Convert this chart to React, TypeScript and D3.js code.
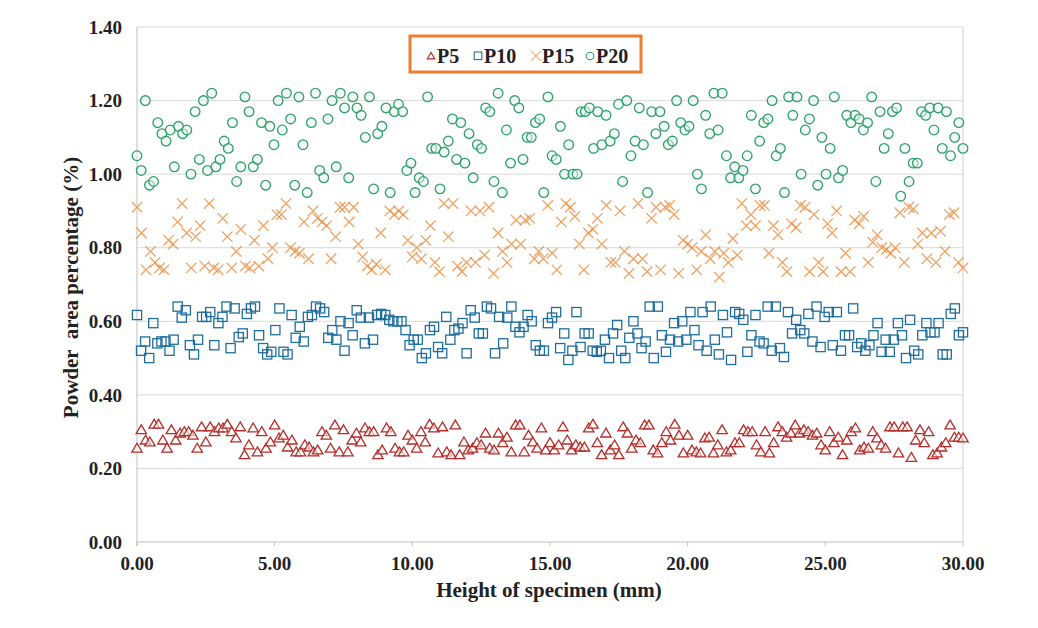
import React from "react";
import * as d3 from "d3";

const yTicks = [0, 0.2, 0.4, 0.6, 0.8, 1.0, 1.2, 1.4];
const xTicks = [0, 5, 10, 15, 20, 25, 30];
const seriesNames = ["P5", "P10", "P15", "P20"];

const p5 = [
  0.255, 0.305, 0.277, 0.272, 0.32, 0.32, 0.277, 0.255, 0.305, 0.277, 0.296, 0.3, 0.3, 0.29, 0.255, 0.313, 0.272, 0.313, 0.3, 0.31,
  0.31, 0.32, 0.3, 0.283, 0.313, 0.237, 0.264, 0.31, 0.245, 0.3, 0.255, 0.272, 0.318, 0.283, 0.29, 0.258, 0.277, 0.245, 0.245, 0.264,
  0.258, 0.245, 0.25, 0.3, 0.29, 0.255, 0.318, 0.245, 0.305, 0.245, 0.277, 0.296, 0.272, 0.31, 0.3, 0.3, 0.237, 0.25, 0.31, 0.3,
  0.255, 0.245,
  0.245, 0.29, 0.277, 0.255, 0.3, 0.272, 0.32, 0.31, 0.242, 0.313, 0.245, 0.237, 0.318, 0.237, 0.272, 0.25, 0.255, 0.27, 0.264, 0.296,
  0.255, 0.25, 0.296, 0.27, 0.285, 0.245, 0.318, 0.318, 0.245, 0.29, 0.272, 0.255, 0.31, 0.25, 0.27, 0.25, 0.264, 0.313, 0.277, 0.25,
  0.264, 0.258, 0.258, 0.31, 0.32, 0.27, 0.237, 0.296, 0.25, 0.264, 0.237, 0.313, 0.296, 0.255, 0.277, 0.27, 0.318, 0.318, 0.25, 0.242,
  0.27, 0.3, 0.277, 0.32,
  0.29, 0.242, 0.29, 0.25, 0.245, 0.242, 0.283, 0.285, 0.242, 0.264, 0.305, 0.245, 0.25, 0.27, 0.27, 0.305, 0.3, 0.3, 0.264, 0.245,
  0.3, 0.242, 0.27, 0.313, 0.3, 0.285, 0.296, 0.318, 0.296, 0.305, 0.3, 0.29, 0.296, 0.264, 0.25, 0.3, 0.27, 0.285, 0.237, 0.277,
  0.3, 0.31, 0.25, 0.258, 0.255, 0.3, 0.283, 0.264, 0.255, 0.313, 0.313, 0.242, 0.313, 0.313, 0.23, 0.277, 0.305, 0.27, 0.3, 0.237,
  0.242, 0.258, 0.27, 0.318, 0.285, 0.285, 0.283,
];

const p10 = [
  0.617, 0.52, 0.545, 0.5, 0.595, 0.54, 0.545, 0.545, 0.52, 0.55, 0.64, 0.61, 0.63, 0.535, 0.51, 0.55, 0.612, 0.612, 0.625, 0.535,
  0.595, 0.612, 0.64, 0.527, 0.635, 0.557, 0.567, 0.62, 0.635, 0.64, 0.562, 0.527, 0.51, 0.517, 0.576, 0.635, 0.517, 0.51, 0.617, 0.555,
  0.585, 0.545, 0.612, 0.617, 0.64, 0.635, 0.625, 0.555, 0.576, 0.55, 0.6, 0.52, 0.595, 0.562, 0.63, 0.61, 0.54, 0.61, 0.55, 0.617,
  0.62, 0.617, 0.604, 0.6, 0.6,
  0.6, 0.576, 0.535, 0.55, 0.55, 0.5, 0.513, 0.576, 0.585, 0.53, 0.513, 0.612, 0.55, 0.576, 0.58, 0.595, 0.513, 0.63, 0.61, 0.567,
  0.567, 0.64, 0.635, 0.513, 0.612, 0.54, 0.61, 0.64, 0.585, 0.57, 0.585, 0.617, 0.6, 0.535, 0.52, 0.52, 0.595, 0.61, 0.625, 0.527,
  0.567, 0.495, 0.52, 0.625, 0.53, 0.567, 0.567, 0.52, 0.517, 0.52, 0.55, 0.5, 0.567, 0.59, 0.52, 0.5, 0.555, 0.6, 0.567, 0.527,
  0.545, 0.64, 0.5, 0.64, 0.562, 0.517, 0.55, 0.595, 0.545,
  0.6, 0.55, 0.625, 0.576, 0.535, 0.625, 0.52, 0.64, 0.55, 0.51, 0.617, 0.57, 0.495, 0.625, 0.62, 0.604, 0.517, 0.562, 0.617, 0.545,
  0.54, 0.64, 0.52, 0.64, 0.527, 0.503, 0.625, 0.567, 0.604, 0.576, 0.567, 0.62, 0.545, 0.64, 0.53, 0.612, 0.625, 0.535, 0.625, 0.52,
  0.562, 0.562, 0.635, 0.53, 0.54, 0.52, 0.535, 0.562, 0.595, 0.517, 0.55, 0.517, 0.55, 0.595, 0.562, 0.5, 0.604, 0.52, 0.51, 0.562,
  0.595, 0.57, 0.57, 0.595, 0.51, 0.51, 0.62, 0.635, 0.562, 0.57,
];

const p15 = [
  0.91, 0.84, 0.74, 0.79, 0.76, 0.745, 0.74, 0.82, 0.81, 0.87, 0.92, 0.84, 0.745, 0.83, 0.86, 0.75, 0.92, 0.745, 0.74, 0.88,
  0.83, 0.745, 0.79, 0.85, 0.75, 0.745, 0.82, 0.75, 0.86, 0.77, 0.8, 0.89, 0.89, 0.92, 0.8, 0.79, 0.785, 0.87, 0.77, 0.9,
  0.88, 0.87, 0.86, 0.77, 0.83, 0.91, 0.91, 0.87, 0.91, 0.81, 0.775, 0.75, 0.74, 0.755, 0.84, 0.74, 0.9, 0.89, 0.9, 0.89,
  0.82, 0.775,
  0.8, 0.77, 0.82, 0.86, 0.76, 0.735, 0.92, 0.83, 0.92, 0.75, 0.735, 0.76, 0.9, 0.76, 0.9, 0.78, 0.91, 0.73, 0.84, 0.79,
  0.76, 0.81, 0.875, 0.81, 0.875, 0.88, 0.77, 0.79, 0.77, 0.915, 0.785, 0.74, 0.87, 0.92, 0.91, 0.885, 0.81, 0.74, 0.84, 0.85,
  0.88, 0.81, 0.915, 0.76, 0.76, 0.9, 0.79, 0.73, 0.77, 0.92, 0.77, 0.735, 0.88, 0.91, 0.74, 0.91, 0.915, 0.89, 0.73, 0.82,
  0.81, 0.8, 0.74, 0.79, 0.835,
  0.77, 0.79, 0.72, 0.785, 0.76, 0.825, 0.78, 0.92, 0.86, 0.89, 0.86, 0.915, 0.915, 0.785, 0.86, 0.835, 0.76, 0.735, 0.865, 0.855,
  0.915, 0.91, 0.735, 0.89, 0.76, 0.735, 0.865, 0.84, 0.9, 0.735, 0.785, 0.735, 0.875, 0.865, 0.885, 0.76, 0.815, 0.835, 0.8, 0.795,
  0.785, 0.8, 0.895, 0.76, 0.91, 0.905, 0.81, 0.84, 0.77, 0.84, 0.76, 0.845, 0.79, 0.89, 0.895, 0.76, 0.745,
];

const p20 = [
  1.05, 1.01, 1.2, 0.97, 0.98, 1.14, 1.11, 1.09, 1.12, 1.02, 1.13, 1.11, 1.12, 1.0, 1.17, 1.04, 1.2, 1.01, 1.22, 1.02,
  1.04, 1.09, 1.07, 1.14, 0.98, 1.02, 1.21, 1.17, 1.02, 1.04, 1.14, 0.97, 1.13, 1.08, 1.2, 1.12, 1.22, 1.15, 0.97, 1.21,
  1.08, 0.95, 1.14, 1.22, 1.01, 0.99, 1.15, 1.2, 1.02, 1.22, 1.18, 0.99, 1.21, 1.18, 1.16, 1.1, 1.21, 0.96, 1.11, 1.13,
  1.18, 0.95, 1.17,
  1.19, 1.17, 1.01, 1.03, 0.95, 0.99, 0.98, 1.21, 1.07, 1.07, 0.96, 1.06, 1.09, 1.15, 1.04, 1.14, 1.03, 1.11, 0.99, 1.08,
  1.07, 1.18, 1.17, 0.98, 1.22, 0.95, 1.12, 1.03, 1.2, 1.18, 1.04, 1.1, 1.1, 1.14, 1.15, 0.95, 1.21, 1.05, 1.04, 1.13,
  1.0, 1.08, 1.0, 1.0, 1.17, 1.17, 1.18, 1.07, 1.17, 1.08, 1.16, 1.09, 1.11, 1.19, 0.98, 1.2, 1.05, 1.09, 1.18, 1.08,
  0.95, 1.17, 1.11, 1.17, 1.13, 1.08, 1.09, 1.2, 1.14, 1.12,
  1.13, 1.2, 1.0, 0.96, 1.16, 1.11, 1.22, 1.12, 1.22, 1.05, 0.99, 1.02, 0.99, 1.01, 1.05, 1.16, 0.96, 1.09, 1.14, 1.15,
  1.2, 1.05, 1.07, 0.95, 1.21, 1.16, 1.21, 1.0, 1.12, 1.15, 1.2, 0.97, 1.1, 1.0, 1.07, 1.21, 0.99, 1.01, 1.16, 1.14,
  1.16, 1.15, 1.12, 1.14, 1.21, 0.98, 1.17, 1.07, 1.11, 1.17, 1.18, 0.94, 1.07, 0.98, 1.03, 1.03, 1.17, 1.16, 1.18, 1.12,
  1.18, 1.07, 1.17, 1.05, 1.1, 1.14, 1.07,
];

const W = 1038;
const H = 628;
const M = { left: 137, right: 963, top: 27, bottom: 542 };
const FONT = "'Liberation Serif', 'Times New Roman', serif";

const C5 = "#B02E2C";
const C10 = "#1F6E9E";
const C15 = "#EC9246";
const C20 = "#2E9E6C";

const x = d3.scaleLinear().domain([0, 30]).range([M.left, M.right]);
const y = d3.scaleLinear().domain([0, 1.4]).range([M.bottom, M.top]);

function withX(vals: number[]) {
  const n = vals.length;
  return vals.map((v, i) => ({ h: (i * 30) / (n - 1), v }));
}

const tri = (cx: number, cy: number, s: number) =>
  `M${cx},${cy - s * 0.95}L${cx + s},${cy + s * 0.75}L${cx - s},${cy + s * 0.75}Z`;

function Triangle({ cx, cy, s = 5.2 }: { cx: number; cy: number; s?: number }) {
  return <path d={tri(cx, cy, s)} fill="#fff6f4" fillOpacity={0.6} stroke={C5} strokeWidth={1.3} />;
}
function Square({ cx, cy, s = 4.6 }: { cx: number; cy: number; s?: number }) {
  return <rect x={cx - s} y={cy - s} width={2 * s} height={2 * s} fill="none" stroke={C10} strokeWidth={1.3} />;
}
function Cross({ cx, cy, s = 5.2 }: { cx: number; cy: number; s?: number }) {
  return (
    <path
      d={`M${cx - s},${cy - s}L${cx + s},${cy + s}M${cx - s},${cy + s}L${cx + s},${cy - s}`}
      stroke={C15}
      strokeOpacity={0.85}
      strokeWidth={1.3}
      fill="none"
    />
  );
}
function Circle({ cx, cy, r = 4.8 }: { cx: number; cy: number; r?: number }) {
  return <circle cx={cx} cy={cy} r={r} fill="#eaf8f0" fillOpacity={0.5} stroke={C20} strokeWidth={1.3} />;
}

export default function App() {
  const d5 = withX(p5);
  const d10 = withX(p10);
  const d15 = withX(p15);
  const d20 = withX(p20);

  const legendItems = [
    { name: seriesNames[0], mx: 431, tx: 437 },
    { name: seriesNames[1], mx: 478, tx: 484 },
    { name: seriesNames[2], mx: 536, tx: 542 },
    { name: seriesNames[3], mx: 590, tx: 596 },
  ];
  const ly = 55;

  return (
    <svg
      width={W}
      height={H}
      style={{ position: "absolute", left: 0, top: 0, background: "#fff" }}
      fontFamily={FONT}
    >
      {/* gridlines */}
      {yTicks.slice(1).map((t) => (
        <line key={t} x1={M.left} x2={M.right} y1={y(t)} y2={y(t)} stroke="#d9d9d9" strokeWidth={1} />
      ))}
      {/* axes */}
      <line x1={M.left} x2={M.left} y1={M.top} y2={M.bottom + 4} stroke="#bfbfbf" strokeWidth={1} />
      <line x1={M.right} x2={M.right} y1={M.top} y2={M.bottom} stroke="#d0d0d0" strokeWidth={1} />
      <line x1={M.left} x2={M.right} y1={M.bottom} y2={M.bottom} stroke="#bfbfbf" strokeWidth={1} />
      {xTicks.map((t) => (
        <line key={t} x1={x(t)} x2={x(t)} y1={M.bottom} y2={M.bottom + 4} stroke="#bfbfbf" />
      ))}
      {/* tick labels */}
      {yTicks.map((t) => (
        <text key={t} x={122} y={y(t)} dy="0.35em" textAnchor="end" fontSize={19} fontWeight="bold" fill="#222">
          {t.toFixed(2)}
        </text>
      ))}
      {xTicks.map((t) => (
        <text key={t} x={x(t)} y={563} dy="0.35em" textAnchor="middle" fontSize={19} fontWeight="bold" fill="#222">
          {t.toFixed(2)}
        </text>
      ))}
      {/* axis titles */}
      <text
        transform={`translate(78,${(M.top + M.bottom) / 2 + 3}) rotate(-90)`}
        textAnchor="middle"
        fontSize={21}
        fontWeight="bold"
        fill="#222"
        style={{ whiteSpace: "pre" }}
      >
        {"Powder  area percentage (%)"}
      </text>
      <text x={549} y={590} dy="0.35em" textAnchor="middle" fontSize={21} fontWeight="bold" fill="#222">
        Height of specimen (mm)
      </text>
      {/* series */}
      <g>
        {d5.map((d, i) => (
          <Triangle key={i} cx={x(d.h)} cy={y(d.v)} />
        ))}
      </g>
      <g>
        {d10.map((d, i) => (
          <Square key={i} cx={x(d.h)} cy={y(d.v)} />
        ))}
      </g>
      <g>
        {d15.map((d, i) => (
          <Cross key={i} cx={x(d.h)} cy={y(d.v)} />
        ))}
      </g>
      <g>
        {d20.map((d, i) => (
          <Circle key={i} cx={x(d.h)} cy={y(d.v)} />
        ))}
      </g>
      {/* legend */}
      <rect x={410} y={36} width={231} height={36} fill="#fff" stroke="#ED7D31" strokeWidth={3} />
      {legendItems.map((it, i) => (
        <g key={it.name}>
          {i === 0 && (
            <path d={tri(it.mx, ly + 1, 3.8)} fill="#fff" stroke={C5} strokeWidth={1.1} />
          )}
          {i === 1 && (
            <rect x={it.mx - 3.8} y={ly - 3} width={7.6} height={7.6} fill="none" stroke={C10} strokeWidth={1.1} />
          )}
          {i === 2 && (
            <path
              d={`M${it.mx - 5},${ly - 4}L${it.mx + 5},${ly + 6}M${it.mx - 5},${ly + 6}L${it.mx + 5},${ly - 4}`}
              stroke={C15}
              strokeOpacity={0.7}
              strokeWidth={1.1}
            />
          )}
          {i === 3 && <circle cx={it.mx} cy={ly + 1} r={3.8} fill="none" stroke={C20} strokeWidth={1.1} />}
          <text x={it.tx} y={ly + 1} dy="0.35em" fontSize={20} fontWeight="bold" fill="#222">
            {it.name}
          </text>
        </g>
      ))}
    </svg>
  );
}
